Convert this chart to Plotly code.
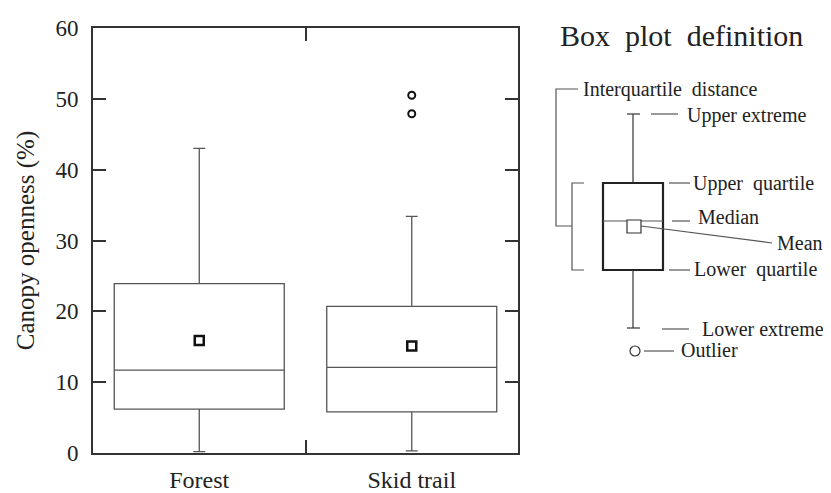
import plotly.graph_objects as go

# Box plot values
categories = ['Forest', 'Skid trail']
q1 = [6.2, 5.8]
median = [11.7, 12.1]
q3 = [23.9, 20.7]
lower_fence = [0.2, 0.3]
upper_fence = [43.0, 33.4]
means = [15.9, 15.1]

outlier_cat = ['Skid trail', 'Skid trail']
outlier_val = [50.5, 47.9]

y_ticks = [0, 10, 20, 30, 40, 50, 60]

# the page body has an 8px margin, so the figure is shrunk to fit the window
PAGE_W, PAGE_H, OFF = 831, 493, 8
W, H = PAGE_W - OFF, PAGE_H - OFF
FONT = 'Liberation Serif, Times New Roman, serif'
TXT = '#222222'
LINE = '#555555'

fig = go.Figure()

fig.add_trace(go.Box(
    x=categories, q1=q1, median=median, q3=q3,
    lowerfence=lower_fence, upperfence=upper_fence,
    width=0.8, whiskerwidth=0.07,
    fillcolor='white', line=dict(color=LINE, width=1.3),
    boxpoints=False, showlegend=False, hoverinfo='skip',
))

# means
fig.add_trace(go.Scatter(
    x=categories, y=means, mode='markers', showlegend=False,
    marker=dict(symbol='square', size=9, color='white',
                line=dict(color='#111111', width=2.5)),
))

# outliers
fig.add_trace(go.Scatter(
    x=outlier_cat, y=outlier_val, mode='markers', showlegend=False,
    marker=dict(symbol='circle', size=7, color='white',
                line=dict(color='#111111', width=2)),
))

# ---- "Box plot definition" diagram, drawn in a page-pixel frame ----
px_ref = dict(xref='x2', yref='y2')
shapes = []


def seg(x0, y0, x1, y1, color=LINE, width=1.2):
    shapes.append(dict(type='line', x0=x0, y0=y0, x1=x1, y1=y1,
                       line=dict(color=color, width=width), **px_ref))


# brackets
shapes.append(dict(type='path', path='M 578,89 L 556,89 L 556,226 L 572,226',
                   line=dict(color=LINE, width=1.2), **px_ref))
shapes.append(dict(type='path', path='M 584,183 L 572,183 L 572,270 L 584,270',
                   line=dict(color=LINE, width=1.2), **px_ref))
# box
shapes.append(dict(type='rect', x0=603, y0=183, x1=663, y1=270,
                   line=dict(color='#222222', width=2.2), **px_ref))
seg(603, 221, 663, 221)
shapes.append(dict(type='rect', x0=627, y0=220, x1=641, y1=233,
                   line=dict(color='#333333', width=1.2), fillcolor='white', **px_ref))
# whiskers
seg(633, 114, 633, 183, '#333333')
seg(627, 114, 640, 114, '#333333')
seg(633, 270, 633, 328, '#333333')
seg(627, 328, 640, 328, '#333333')
shapes.append(dict(type='circle', x0=630, y0=346, x1=640, y1=356,
                   line=dict(color='#333333', width=1.2), **px_ref))
# leader lines
seg(651, 114, 678, 114)
seg(669, 183, 690, 183)
seg(672, 221, 690, 221)
seg(641, 226, 772, 243)
seg(669, 270, 690, 270)
seg(662, 329, 689, 329)
seg(644, 351, 674, 351)

annotations = [
    dict(text='Box  plot  definition', x=558, y=35, font=dict(size=30)),
    dict(text='Interquartile  distance', x=581, y=89),
    dict(text='Upper extreme', x=685, y=115),
    dict(text='Upper  quartile', x=691, y=183),
    dict(text='Median', x=696, y=217),
    dict(text='Mean', x=775, y=243),
    dict(text='Lower  quartile', x=692, y=269),
    dict(text='Lower extreme', x=700, y=329),
    dict(text='Outlier', x=679, y=350),
]
for a in annotations:
    a.setdefault('font', dict(size=20))
    a['font'] = dict(family=FONT, color=TXT, **a['font'])
    a.update(xanchor='left', yanchor='middle', showarrow=False, **px_ref)

fig.update_layout(
    width=W, height=H,
    margin=dict(l=0, r=0, t=0, b=0, autoexpand=False),
    paper_bgcolor='white', plot_bgcolor='rgba(0,0,0,0)',
    font=dict(family=FONT, color=TXT),
    showlegend=False,
    shapes=shapes,
    annotations=annotations,
    xaxis=dict(
        domain=[(93 - OFF) / W, (518 - OFF) / W], type='category',
        categoryarray=categories,
        range=[-0.5, 1.5], tickson='boundaries', ticks='inside', ticklen=13,
        tickwidth=1.5, tickcolor='#333333', mirror='ticks', showline=True,
        linecolor='#333333', linewidth=1.6, showgrid=False, zeroline=False,
        tickfont=dict(size=24, family=FONT, color=TXT), anchor='y',
        ticklabelstandoff=4, automargin=False,
    ),
    yaxis=dict(
        domain=[(PAGE_H - 453) / H, (PAGE_H - 28) / H], range=[0, 60],
        tickvals=y_ticks,
        ticks='inside', ticklen=13, tickwidth=1.5, tickcolor='#333333',
        mirror='ticks', showline=True, linecolor='#333333', linewidth=1.6,
        showgrid=False, zeroline=False, anchor='x', ticklabelstandoff=8,
        tickfont=dict(size=23, family=FONT, color=TXT), automargin=False,
        title=dict(text='Canopy openness (%)', standoff=14,
                   font=dict(size=25, family=FONT, color=TXT)),
    ),
    xaxis2=dict(domain=[0, 1], range=[OFF, PAGE_W], visible=False, anchor='y2',
                automargin=False),
    yaxis2=dict(domain=[0, 1], range=[PAGE_H, OFF], visible=False, anchor='x2',
                automargin=False),
)

fig.write_html('out.html')
